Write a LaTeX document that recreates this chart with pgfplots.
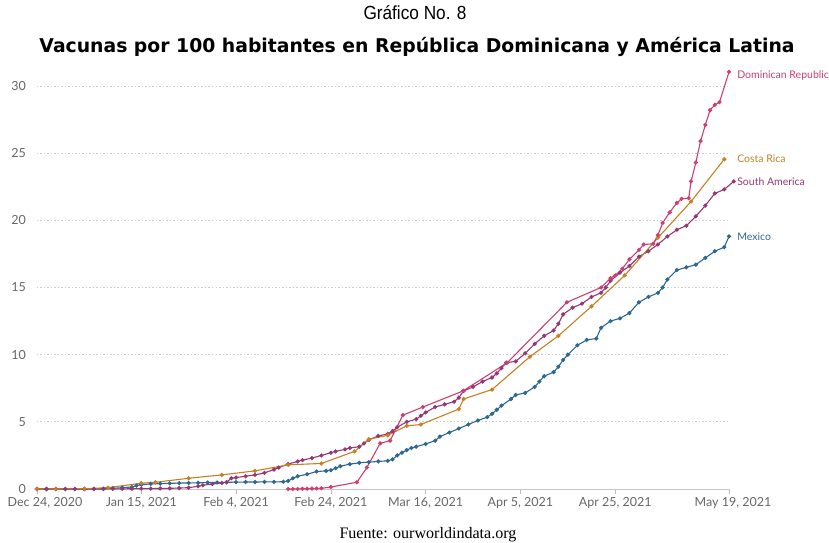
\documentclass[border=0pt]{standalone}
\usepackage{fontspec}
\setmainfont{Lato}
\newfontfamily\boldtitlefont{DejaVu Sans}
\newfontfamily\headfont{Liberation Sans}
\newfontfamily\srcfont{Liberation Serif}
\usepackage{graphicx}
\usepackage{pgfplots}
\pgfplotsset{compat=1.18}

\definecolor{drcol}{RGB}{208,62,112}
\definecolor{crcol}{RGB}{198,128,32}
\definecolor{sacol}{RGB}{150,56,118}
\definecolor{mxcol}{RGB}{44,104,146}
\definecolor{tickgray}{RGB}{102,102,102}

\begin{document}
\begin{tikzpicture}
\useasboundingbox (0,0) rectangle (829bp,543bp);

% titles and source
\node[anchor=base, inner sep=0] at (415bp,523bp)
  {\resizebox{103bp}{\height}{\headfont\fontsize{19bp}{21bp}\selectfont Gráfico No. 8}};
\node[anchor=base, inner sep=0] at (417bp,490bp)
  {\resizebox{755bp}{\height}{\boldtitlefont\bfseries\fontsize{19bp}{21bp}\selectfont Vacunas por 100 habitantes en República Dominicana y América Latina}};
\node[anchor=base, inner sep=0] at (428bp,4bp)
  {\resizebox{177bp}{\height}{\srcfont\fontsize{16bp}{18bp}\selectfont Fuente: ourworldindata.org}};

\begin{axis}[
  at={(37bp,54bp)}, anchor=south west,
  scale only axis, width=692bp, height=403bp,
  xmin=0, xmax=146, ymin=0, ymax=30,
  clip=false,
  axis lines*=left,
  y axis line style={draw=none},
  x axis line style={color=gray!45, line width=0.8bp},
  ytick={0,5,10,15,20,25,30},
  xtick={0,22,42,62,82,102,122,146},
  xticklabels={{\hspace*{16bp}Dec 24, 2020},{Jan 15, 2021},{Feb 4, 2021},{Feb 24, 2021},{Mar 16, 2021},{Apr 5, 2021},{Apr 25, 2021},{\hspace*{8bp}May 19, 2021}},
  tick align=outside,
  major tick length=5bp,
  ytick style={draw=none},
  xtick style={color=gray!50, line width=0.6bp},
  ymajorgrids=true,
  major grid style={color=gray!40, line width=0.7bp, dash pattern=on 1.5bp off 2bp},
  /pgf/number format/assume math mode=true,
  every tick label/.append style={font=\fontsize{12.5bp}{14bp}\selectfont, text=tickgray},
  yticklabel style={anchor=east, inner sep=0, xshift=-6bp},
  xticklabel style={anchor=north, inner sep=0, yshift=-3bp},
  every axis plot/.append style={line width=1.1bp, mark=*, mark size=1.5bp},
]

% Mexico
\addplot[color=mxcol] coordinates {
(0,0)(2,0)(4,0)(6,0)(8,0)(10,0)(12,0.01)(14,0.02)(16,0.05)(18,0.1)(20,0.15)(21,0.25)(22,0.32)
(24,0.38)(26,0.4)(28,0.42)(30,0.44)(32,0.45)(34,0.46)(36,0.48)(38,0.49)(40,0.5)(42,0.51)
(44,0.52)(46,0.52)(48,0.53)(50,0.53)(52,0.54)(53,0.6)(54,0.8)(55,0.95)(57,1.1)(59,1.3)
(61,1.35)(62,1.4)(63,1.55)(64,1.7)(66,1.85)(68,1.95)(70,2.0)(72,2.05)(74,2.1)(75,2.2)
(76,2.5)(77,2.7)(78,2.9)(79,3.05)(80,3.15)(82,3.35)(84,3.6)(85,3.9)(87,4.2)(89,4.5)
(91,4.8)(93,5.1)(95,5.35)(96,5.6)(97,5.9)(98,6.2)(100,6.7)(101,7.0)(103,7.15)(105,7.6)
(106,8.0)(107,8.4)(109,8.7)(110,9.1)(111,9.6)(112,10.0)(114,10.7)(116,11.1)(118,11.2)
(119,12.0)(121,12.5)(123,12.7)(125,13.1)(127,13.9)(129,14.3)(131,14.6)(132,15.0)(133,15.6)
(135,16.3)(137,16.5)(139,16.7)(141,17.2)(143,17.7)(145,18.0)(146,18.8)
};

% South America
\addplot[color=sacol] coordinates {
(0,0)(2,0)(4,0)(6,0)(8,0)(10,0)(12,0)(14,0)(16,0.01)(18,0.01)(20,0.02)(22,0.03)(24,0.03)
(26,0.04)(28,0.05)(30,0.07)(32,0.1)(34,0.2)(35,0.28)(37,0.37)(39,0.45)(40,0.5)(41,0.8)
(42,0.85)(44,0.95)(46,1.05)(48,1.2)(50,1.45)(51,1.6)(53,1.86)(55,2.05)(56,2.15)(58,2.3)
(60,2.5)(62,2.7)(63,2.8)(65,2.95)(66,3.05)(68,3.15)(69,3.4)(70,3.65)(72,3.95)(74,4.1)
(75,4.3)(76,4.6)(78,5.0)(80,5.2)(81,5.45)(82,5.7)(84,6.1)(86,6.3)(88,6.5)(89,6.8)(90,7.3)
(92,7.6)(94,8.0)(96,8.3)(97,8.6)(98,9.0)(99,9.4)(101,9.5)(103,10.1)(105,10.8)(107,11.4)
(109,11.8)(110,12.3)(111,13.0)(113,13.5)(115,13.8)(117,14.3)(119,14.6)(120,15.0)(121,15.5)
(123,16.1)(125,16.6)(127,17.3)(129,17.7)(131,18.2)(133,18.8)(135,19.3)(137,19.6)(139,20.3)
(141,21.1)(143,22.0)(145,22.3)(147,22.9)
};

% Costa Rica
\addplot[color=crcol] coordinates {
(0,0)(4,0)(10,0.02)(15,0.1)(22,0.43)(25,0.5)(32,0.8)(39,1.05)(46,1.35)(53,1.8)(60,1.9)
(67,2.8)(70,3.7)(74,4.0)(78,4.7)(81,4.8)(89,5.95)(90,6.7)(96,7.4)(104,9.85)(110,11.4)
(117,13.6)(124,15.9)(131,18.7)(138,21.4)(145,24.55)
};

% Dominican Republic
\addplot[color=drcol] coordinates {
(53,0)(54,0)(55,0)(56,0.02)(57,0.02)(58,0.03)(59,0.04)(60,0.05)(62,0.15)(67.5,0.5)
(69.6,1.6)(72.4,3.4)(74.5,3.6)(77.2,5.5)(81.4,6.1)(89.9,7.3)(99.2,9.4)(111.8,13.9)
(119,15.0)(121,15.7)(122,15.9)(123.5,16.4)(125,17.1)(127,17.8)(128,18.2)(130,18.25)
(131,18.9)(132,19.8)(133.5,20.6)(135,21.3)(136,21.6)(137.5,21.65)(138,22.9)(139,24.3)
(140,25.9)(141,27.1)(142,28.2)(143,28.6)(144,28.8)(146,31.05)
};

% line labels
\node[anchor=west, inner sep=0, text=drcol, font=\fontsize{10.5bp}{12bp}\selectfont] at (axis cs:147.7,30.75) {Dominican Republic};
\node[anchor=west, inner sep=0, text=crcol, font=\fontsize{10.5bp}{12bp}\selectfont] at (axis cs:147.7,24.57) {Costa Rica};
\node[anchor=west, inner sep=0, text=sacol, font=\fontsize{10.5bp}{12bp}\selectfont] at (axis cs:147.7,22.86) {South America};
\node[anchor=west, inner sep=0, text=mxcol, font=\fontsize{10.5bp}{12bp}\selectfont] at (axis cs:147.7,18.76) {Mexico};
\end{axis}
\end{tikzpicture}
\end{document}
